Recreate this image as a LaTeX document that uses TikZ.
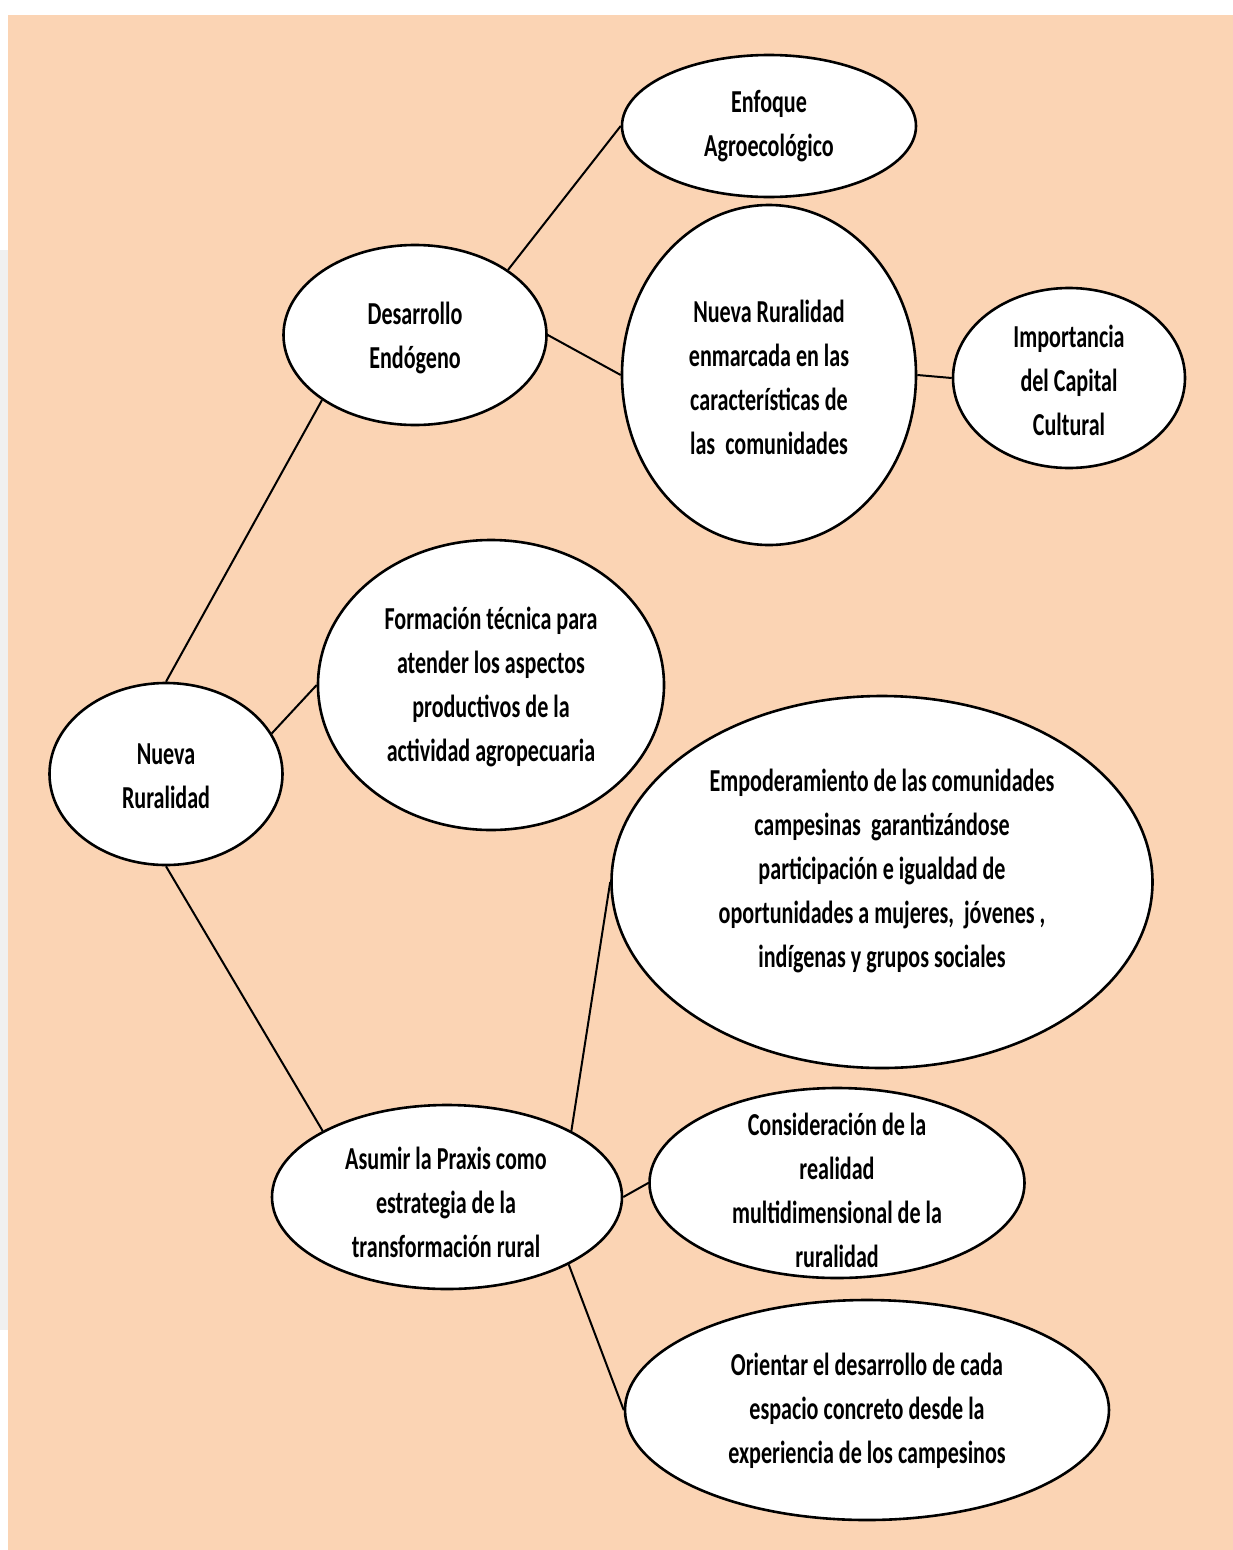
\documentclass[tikz,border=0pt]{standalone}
\usepackage{fontspec}
\setmainfont{Carlito}[FakeStretch=0.69]
\usetikzlibrary{shapes.geometric}

\begin{document}
\begin{tikzpicture}[x=1pt,y=-1pt,
  bubble/.style={ellipse,draw=black,fill=white,line width=2.6pt,inner sep=0pt},
  txt/.style={align=center,inner sep=0pt,font=\bfseries\fontsize{32}{44}\selectfont},
  link/.style={draw=black,line width=2pt}]
\definecolor{fillColor}{RGB}{251,212,180}
\definecolor{edgeColor}{RGB}{240,240,240}
\path[use as bounding box,fill=white] (0,0) rectangle (1233,1550);

\path[fill=edgeColor] (0,250) rectangle (8,1330);

\path[fill=fillColor] (8,15) rectangle (1233,1550);

% ellipses
\node[bubble,minimum width=294pt,minimum height=142pt] (enf) at (769,126) {};

\node[bubble,minimum width=263pt,minimum height=180pt] (de) at (415,335) {};

\node[bubble,minimum width=294pt,minimum height=340pt] (nre) at (769,375) {};

\node[bubble,minimum width=232pt,minimum height=180pt] (imp) at (1069,378) {};

\node[bubble,minimum width=346pt,minimum height=290pt] (frm) at (491,685) {};

\node[bubble,minimum width=233pt,minimum height=182pt] (nr) at (166,774) {};

\node[bubble,minimum width=541pt,minimum height=372pt] (emp) at (882,882) {};

\node[bubble,minimum width=350pt,minimum height=184pt] (asm) at (447,1197) {};

\node[bubble,minimum width=375pt,minimum height=190pt] (con) at (837,1183) {};

\node[bubble,minimum width=484pt,minimum height=220pt] (ori) at (867,1410) {};

% texts
\node[txt] (t-enf) at (769,126) {Enfoque\\Agroecológico};

\node[txt] (t-de) at (415,338) {Desarrollo\\Endógeno};

\node[txt] (t-nre) at (769,377) {Nueva Ruralidad\\enmarcada en las\\características de\\las\ \ comunidades};

\node[txt] (t-imp) at (1069,380) {Importancia\\del Capital\\Cultural};

\node[txt] (t-frm) at (491,687) {Formación técnica para\\atender los aspectos\\productivos de la\\actividad agropecuaria};

\node[txt] (t-nr) at (166,776) {Nueva\\Ruralidad};

\node[txt] (t-emp) at (882,871) {Empoderamiento de las comunidades\\campesinas\ \ garantizándose\\participación e igualdad de\\oportunidades a mujeres,\ \ jóvenes ,\\indígenas y grupos sociales};

\node[txt] (t-asm) at (446,1202) {Asumir la Praxis como\\estrategia de la\\transformación rural};

\node[txt] (t-con) at (837,1190) {Consideración de la\\realidad\\multidimensional de la\\ruralidad};

\node[txt] (t-ori) at (867,1411) {Orientar el desarrollo de cada\\espacio concreto desde la\\experiencia de los campesinos};

% connectors
\path[link] (nr.north) -- (de.215);

\path[link] (de.35) -- (enf.west);

\path[link] (de.east) -- (nre.west);

\path[link] (nre.east) -- (imp.west);

\path[link] (nr.21) -- (frm.west);

\path[link] (nr.south) -- (asm.152);

\path[link] (asm.28) -- (emp.west);

\path[link] (asm.east) -- (con.west);

\path[link] (asm.-29) -- (ori.west);
\end{tikzpicture}
\end{document}
